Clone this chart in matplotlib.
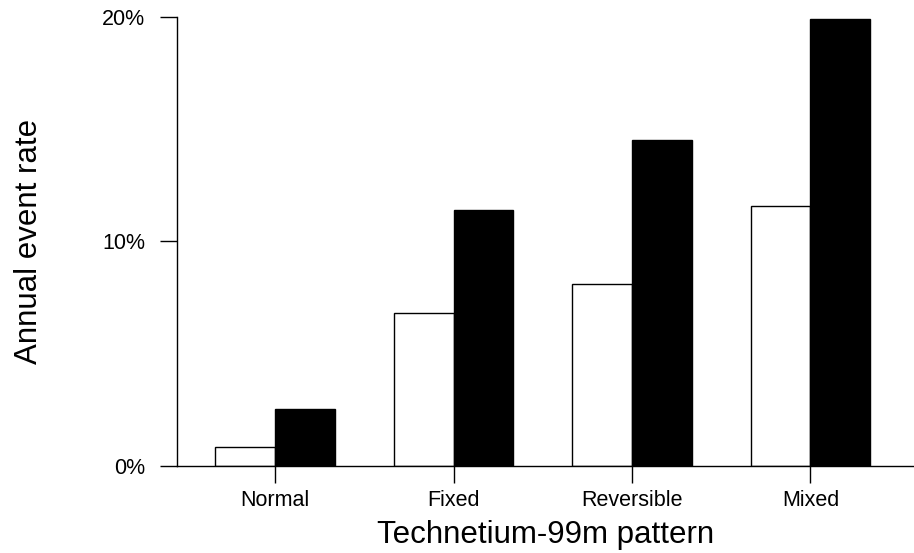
import matplotlib
matplotlib.use("Agg")
import matplotlib.pyplot as plt
import numpy as np

categories = ["Normal", "Fixed", "Reversible", "Mixed"]
white_values = [0.85, 6.8, 8.1, 11.6]
black_values = [2.55, 11.4, 14.5, 19.9]
ytick_values = [0, 10, 20]
ytick_labels = ["0%", "10%", "20%"]

plt.rcParams['font.family'] = ['Liberation Sans', 'DejaVu Sans']

fig = plt.figure(figsize=(9.14, 5.53), dpi=100)
ax = fig.add_axes([177/914, 1-466/553, (914-177)/914, (466-17)/553])

x = np.arange(len(categories))
w = 0.335
ax.bar(x, white_values, width=-w, align='edge', color='white', edgecolor='black', linewidth=1.0)
ax.bar(x, black_values, width=w, align='edge', color='black', edgecolor='black', linewidth=1.0)

ax.set_xlim(-0.55, 3.58)
ax.set_ylim(0, 20)
ax.set_xticks(x)
ax.set_xticklabels(categories, fontsize=15.5)
ax.set_yticks(ytick_values)
ax.set_yticklabels(ytick_labels, fontsize=15.5)
ax.tick_params(axis='x', direction='out', length=12, width=1, pad=5)
ax.tick_params(axis='y', direction='out', length=12, width=1, pad=11)

for s in ['top', 'right']:
    ax.spines[s].set_visible(False)
ax.spines['left'].set_linewidth(1)
ax.spines['bottom'].set_linewidth(1)

ax.set_xlabel("Technetium-99m pattern", fontsize=22.5, labelpad=7)
ax.set_ylabel("Annual event rate", fontsize=22.5, labelpad=42)

fig.savefig("out.png", dpi=100)
